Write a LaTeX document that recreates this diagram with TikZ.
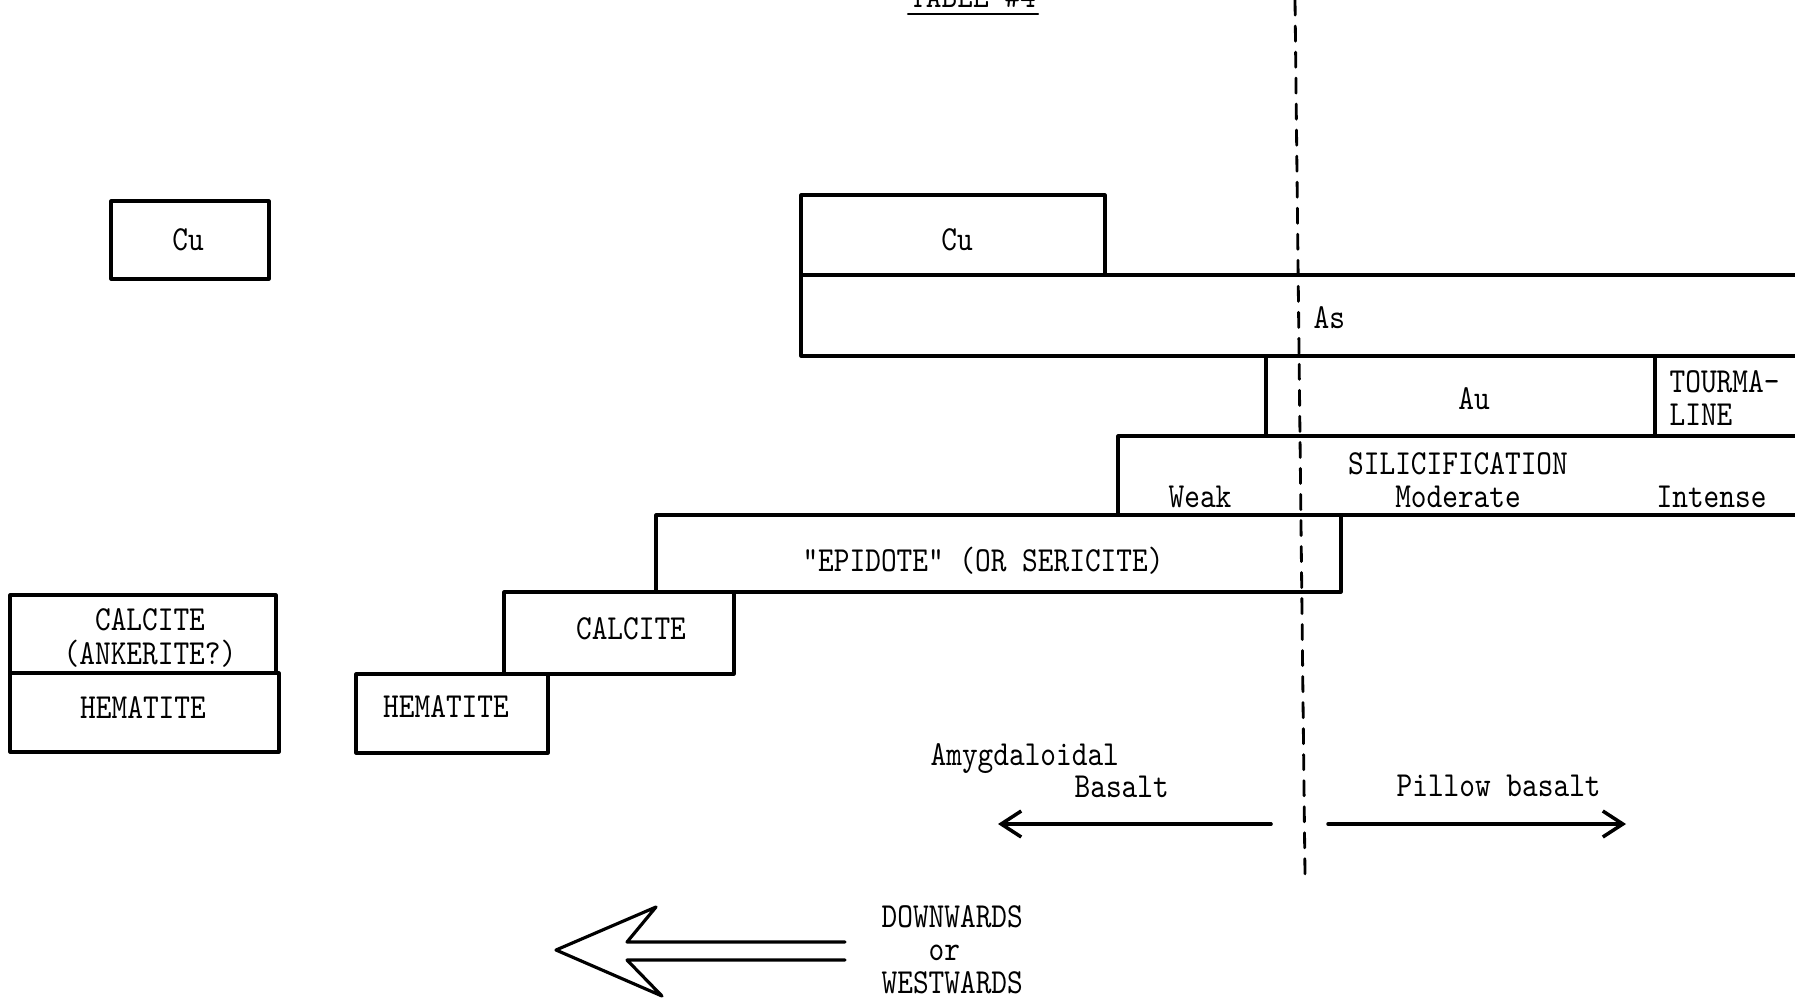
\documentclass[tikz,border=0pt]{standalone}
\usetikzlibrary{arrows.meta}

\begin{document}
\begin{tikzpicture}[line cap=round,line join=round,>={Straight Barb[length=2mm,width=2.6mm]}
  ,x=0.01cm,y=-0.01cm
  ,box/.style={line width=0.9pt}
  ,txt/.style={font=\ttfamily\fontsize{10}{9.4}\selectfont,xscale=0.85,inner sep=0pt,align=center}]
  \useasboundingbox (0,0) rectangle (1795,1000);
  \clip (0,0) rectangle (1795,1000);
  \node[txt,anchor=base] (title) at (973,8) {TABLE \#4};
  \draw [line width=0.6pt] (908,14) -- (1038,14);
  \draw [line width=0.8pt,dash pattern=on 4.3pt off 3.1pt] (1295,0) -- (1305,876);
  % left column
  \draw [box] (111,201) rectangle (269,279);
  \draw [box] (10,595) rectangle (276,673);
  \draw [box] (10,673) rectangle (279,752);
  \node[txt,anchor=base] (cuL) at (188,250) {Cu};
  \node[txt] (calL) at (150,638) {CALCITE\\(ANKERITE?)};
  \node[txt,anchor=base] (hemL) at (143,718) {HEMATITE};
  % staircase
  \draw [box] (356,674) rectangle (548,753);
  \draw [box] (504,592) rectangle (734,674);
  \draw [box] (656,515) rectangle (1341,592);
  \draw [box] (1118,436) rectangle (1810,515);
  \draw [box] (1266,356) rectangle (1655,436);
  \draw [box] (1655,356) rectangle (1810,436);
  \draw [box] (801,275) rectangle (1810,356);
  \draw [box] (801,195) rectangle (1105,275);
  \node[txt,anchor=base] (hemM) at (446,717) {HEMATITE};
  \node[txt,anchor=base] (calM) at (631,639) {CALCITE};
  \node[txt,anchor=base] (epi) at (983,571) {"EPIDOTE" (OR SERICITE)};
  \node[txt] (sil) at (1458,480) {SILICIFICATION\\Moderate};
  \node[txt,anchor=base west] (weak) at (1168,507) {Weak};
  \node[txt,anchor=base west] (intense) at (1656,507) {Intense};
  \node[txt,anchor=base] (au) at (1474,409) {Au};
  \node[txt,anchor=west,align=left] (tour) at (1669,398) {TOURMA-\\LINE};
  \node[txt,anchor=base west] (as) at (1313,328) {As};
  \node[txt,anchor=base] (cuM) at (957,250) {Cu};
  % basalt types
  \node[txt,anchor=base west] (amyg) at (930,765) {Amygdaloidal};
  \node[txt,anchor=base west] (basalt) at (1074,797) {Basalt};
  \node[txt,anchor=base west] (pillow) at (1396,796) {Pillow basalt};
  \coordinate (amygS) at (1271,824);
  \coordinate (amygE) at (998,824);
  \coordinate (pillS) at (1328,824);
  \coordinate (pillE) at (1626,824);
  \draw [->,line width=1pt] (amygS) -- (amygE);
  \draw [->,line width=1pt] (pillS) -- (pillE);
  % direction
  \draw [line width=0.9pt] (845,942) -- (627,942) -- (656,907) -- (556,950)
  -- (662,996) -- (627,960) -- (845,960);
  \node[txt,anchor=west,align=left] (dir) at (881,950) {DOWNWARDS\\\hphantom{DOW}or\\WESTWARDS};
\end{tikzpicture}
\end{document}
